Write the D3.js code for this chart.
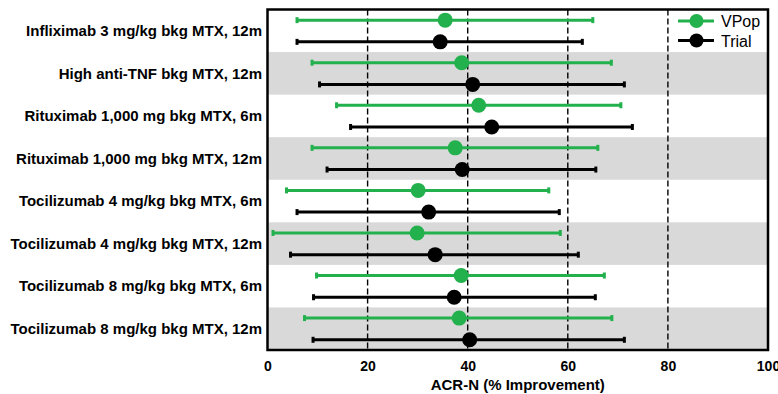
<!DOCTYPE html>
<html>
<head>
<meta charset="utf-8">
<script src="https://cdn.jsdelivr.net/npm/d3@7/dist/d3.min.js"></script>
<style>
  html, body { margin: 0; padding: 0; background: #fff; }
  svg { display: block; font-family: "Liberation Sans", Arial, sans-serif; }
</style>
</head>
<body>
<svg id="chart" width="778" height="394"></svg>
<script>
// Treatment arms, top to bottom
const categories = [
  "Infliximab 3 mg/kg bkg MTX, 12m",
  "High anti-TNF bkg MTX, 12m",
  "Rituximab 1,000 mg bkg MTX, 6m",
  "Rituximab 1,000 mg bkg MTX, 12m",
  "Tocilizumab 4 mg/kg bkg MTX, 6m",
  "Tocilizumab 4 mg/kg bkg MTX, 12m",
  "Tocilizumab 8 mg/kg bkg MTX, 6m",
  "Tocilizumab 8 mg/kg bkg MTX, 12m"
];

// Virtual population: mean ACR-N and interval bounds
const vpopMean = [35.5, 38.8, 42.2, 37.5, 30.1, 29.9, 38.7, 38.3];
const vpopLow  = [5.9, 8.9, 13.8, 8.9, 3.8, 1.1, 9.8, 7.4];
const vpopHigh = [65.0, 68.7, 70.6, 66.0, 56.2, 58.5, 67.3, 68.8];

// Clinical trial: mean ACR-N and interval bounds
const trialMean = [34.5, 41.0, 44.8, 38.9, 32.2, 33.5, 37.3, 40.4];
const trialLow  = [5.9, 10.4, 16.6, 11.9, 5.9, 4.6, 9.2, 9.1];
const trialHigh = [62.9, 71.3, 72.9, 65.6, 58.3, 62.1, 65.5, 71.3];

const xTicks = [0, 20, 40, 60, 80, 100];
const refLines = [20, 40, 60, 80];

const seriesNames = ["VPop", "Trial"];
const seriesColors = ["#22b14c", "#000000"];
const seriesOffset = [0.25, 0.76];

const svg = d3.select("#chart");
const plotL = 267.5, plotR = 768, plotT = 9.5, plotB = 350;

const x = d3.scaleLinear().domain([0, 100]).range([plotL, plotR]);
const y = d3.scaleBand().domain(categories).range([plotT, plotB]).padding(0);
const bw = y.bandwidth();

// Alternating row shading
svg.append("g").selectAll("rect")
  .data(categories.filter((d, i) => i % 2 === 1))
  .join("rect")
  .attr("x", plotL).attr("width", plotR - plotL)
  .attr("y", d => y(d)).attr("height", bw)
  .attr("fill", "#d9d9d9");

// Dashed reference lines
svg.append("g").selectAll("line")
  .data(refLines)
  .join("line")
  .attr("x1", d => x(d)).attr("x2", d => x(d))
  .attr("y1", plotT).attr("y2", plotB)
  .attr("stroke", "#000").attr("stroke-width", 1.4)
  .attr("stroke-dasharray", "6,3");

// Build series records
const series = [
  categories.map((c, i) => ({ c, mean: vpopMean[i], lo: vpopLow[i], hi: vpopHigh[i] })),
  categories.map((c, i) => ({ c, mean: trialMean[i], lo: trialLow[i], hi: trialHigh[i] }))
];

series.forEach((rows, s) => {
  const g = svg.append("g");
  const cy = d => y(d.c) + bw * seriesOffset[s];
  const col = seriesColors[s];
  g.selectAll("line.bar").data(rows).join("line")
    .attr("class", "bar")
    .attr("x1", d => x(d.lo)).attr("x2", d => x(d.hi))
    .attr("y1", cy).attr("y2", cy)
    .attr("stroke", col).attr("stroke-width", 3);
  g.selectAll("rect.capl").data(rows).join("rect")
    .attr("class", "capl")
    .attr("x", d => x(d.lo) - 1.5).attr("y", d => cy(d) - 3)
    .attr("width", 3).attr("height", 6).attr("fill", col);
  g.selectAll("rect.capr").data(rows).join("rect")
    .attr("class", "capr")
    .attr("x", d => x(d.hi) - 1.5).attr("y", d => cy(d) - 3)
    .attr("width", 3).attr("height", 6).attr("fill", col);
  g.selectAll("circle").data(rows).join("circle")
    .attr("cx", d => x(d.mean)).attr("cy", cy)
    .attr("r", 7.5).attr("fill", col);
});

// Plot frame
svg.append("rect")
  .attr("x", plotL).attr("y", plotT)
  .attr("width", plotR - plotL).attr("height", plotB - plotT)
  .attr("fill", "none").attr("stroke", "#000").attr("stroke-width", 2.5);

// Category labels
svg.append("g").selectAll("text")
  .data(categories)
  .join("text")
  .attr("x", 262)
  .attr("y", d => y(d) + bw / 2)
  .attr("dy", "0.35em")
  .attr("text-anchor", "end")
  .attr("font-size", 15)
  .attr("font-weight", "bold")
  .attr("fill", "#000")
  .text(d => d);

// X axis tick labels
const xAxis = d3.axisBottom(x).tickValues(xTicks).tickSize(0).tickPadding(9)
  .tickFormat(d3.format("d"));
const ax = svg.append("g").attr("transform", `translate(0,${plotB})`).call(xAxis);
ax.select(".domain").remove();
ax.selectAll("text")
  .attr("font-size", 14).attr("font-weight", "bold")
  .attr("font-family", "Liberation Sans, Arial, sans-serif").attr("fill", "#000")
  .attr("dy", null).attr("y", 20.7);

// Axis title
svg.append("text")
  .attr("x", (plotL + plotR) / 2).attr("y", 390)
  .attr("text-anchor", "middle")
  .attr("font-size", 15).attr("font-weight", "bold")
  .text("ACR-N (% Improvement)");

// Legend
const legend = svg.append("g");
seriesNames.forEach((name, i) => {
  const ly = 21 + i * 19.5;
  legend.append("line")
    .attr("x1", 678).attr("x2", 714).attr("y1", ly).attr("y2", ly)
    .attr("stroke", seriesColors[i]).attr("stroke-width", 3);
  legend.append("circle")
    .attr("cx", 696.5).attr("cy", ly).attr("r", 7).attr("fill", seriesColors[i]);
  legend.append("text")
    .attr("x", 721).attr("y", ly + 6)
    .attr("font-size", 16).attr("fill", "#000")
    .text(name);
});
</script>
</body>
</html>
